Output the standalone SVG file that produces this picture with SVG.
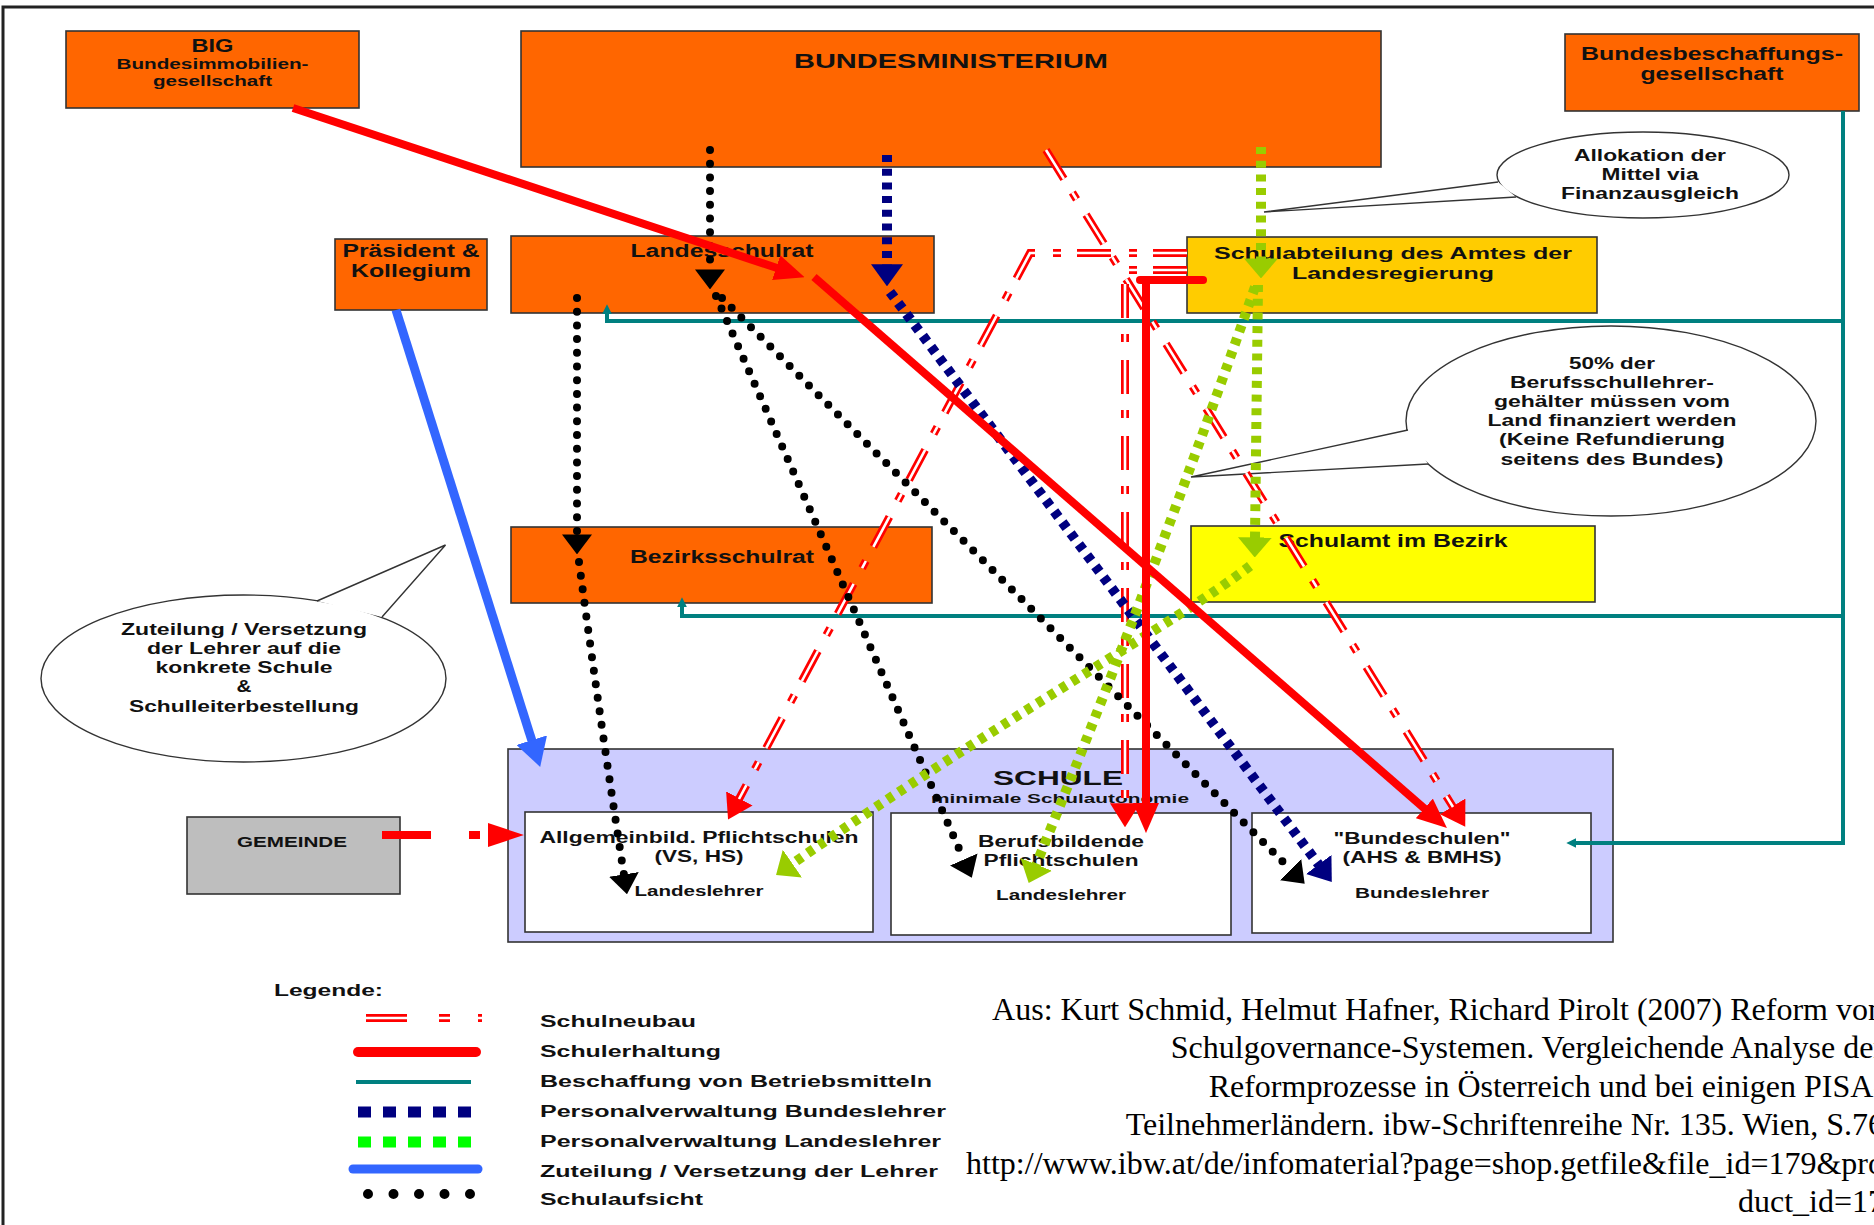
<svg xmlns="http://www.w3.org/2000/svg" width="1874" height="1225" viewBox="0 0 1874 1225">
<style>
.box{stroke:#333;stroke-width:1.6}
.or{fill:#FF6600}
.t{font-family:"Liberation Sans",Arial,Helvetica,sans-serif;font-weight:bold;fill:#111;text-anchor:middle}
.l{text-anchor:start}
.call{fill:#fff;stroke:#333;stroke-width:1.4}
.cite{font-family:"Liberation Serif","Times New Roman",serif;font-size:32px;fill:#000;text-anchor:end}
.red{fill:none;stroke:#FF0000;stroke-width:8}
.neu{fill:none;stroke:#FF0000;stroke-width:8;stroke-dasharray:34 16 8 18}
.neuw{fill:none;stroke:#fff;stroke-width:2.6;stroke-dasharray:34 16 8 18}
.dots{fill:none;stroke:#000;stroke-width:8;stroke-linecap:round;stroke-dasharray:0 13.7}
.navy{fill:none;stroke:#000080;stroke-width:10;stroke-dasharray:7 6.7}
.grn{fill:none;stroke:#99CC00;stroke-width:10;stroke-dasharray:7 6.7}
.teal{fill:none;stroke:#008080;stroke-width:4}
.blue{fill:none;stroke:#3366FF;stroke-width:9}
</style>
<defs>
<marker id="aRed" viewBox="0 0 10 10" refX="0.3" refY="5" markerWidth="30" markerHeight="26" markerUnits="userSpaceOnUse" orient="auto" preserveAspectRatio="none"><path d="M0,0L10,5L0,10z" fill="#FF0000"/></marker>
<marker id="aNeu" viewBox="0 0 10 10" refX="0.3" refY="5" markerWidth="24" markerHeight="30" markerUnits="userSpaceOnUse" orient="auto" preserveAspectRatio="none"><path d="M0,0L10,5L0,10z" fill="#FF0000"/></marker>
<marker id="aGem" viewBox="0 0 10 10" refX="0.3" refY="5" markerWidth="36" markerHeight="24" markerUnits="userSpaceOnUse" orient="auto" preserveAspectRatio="none"><path d="M0,0L10,5L0,10z" fill="#FF0000"/></marker>
<marker id="aBlk" viewBox="0 0 10 10" refX="0.3" refY="5" markerWidth="20" markerHeight="30" markerUnits="userSpaceOnUse" orient="auto" preserveAspectRatio="none"><path d="M0,0L10,5L0,10z" fill="#000"/></marker>
<marker id="aNavy" viewBox="0 0 10 10" refX="0.3" refY="5" markerWidth="22" markerHeight="32" markerUnits="userSpaceOnUse" orient="auto" preserveAspectRatio="none"><path d="M0,0L10,5L0,10z" fill="#000080"/></marker>
<marker id="aGrn" viewBox="0 0 10 10" refX="0.3" refY="5" markerWidth="20" markerHeight="34" markerUnits="userSpaceOnUse" orient="auto" preserveAspectRatio="none"><path d="M0,0L10,5L0,10z" fill="#99CC00"/></marker>
<marker id="aBlue" viewBox="0 0 10 10" refX="0.3" refY="5" markerWidth="28" markerHeight="32" markerUnits="userSpaceOnUse" orient="auto" preserveAspectRatio="none"><path d="M0,0L10,5L0,10z" fill="#3366FF"/></marker>
<marker id="aTeal" viewBox="0 0 10 10" refX="0.3" refY="5" markerWidth="10" markerHeight="10" markerUnits="userSpaceOnUse" orient="auto" preserveAspectRatio="none"><path d="M0,0L10,5L0,10z" fill="#008080"/></marker>
</defs>
<rect x="0" y="0" width="1874" height="1225" fill="#fff"/>
<rect x="3" y="7" width="1900" height="1300" fill="none" stroke="#222" stroke-width="3"/>

<g id="big">
<rect class="box or" x="66" y="31" width="293" height="77"/>
<text class="t" x="212.5" y="52" font-size="18" textLength="42" lengthAdjust="spacingAndGlyphs">BIG</text>
<text class="t" x="212.5" y="69" font-size="14" textLength="192" lengthAdjust="spacingAndGlyphs">Bundesimmobilien-</text>
<text class="t" x="212.5" y="86" font-size="14" textLength="119" lengthAdjust="spacingAndGlyphs">gesellschaft</text>
</g>
<g id="bundesministerium">
<rect class="box or" x="521" y="31" width="860" height="136"/>
<text class="t" x="951" y="68" font-size="21" textLength="314" lengthAdjust="spacingAndGlyphs">BUNDESMINISTERIUM</text>
</g>
<g id="bbg">
<rect class="box or" x="1565" y="34" width="294" height="77"/>
<text class="t" x="1712" y="60" font-size="18" textLength="262" lengthAdjust="spacingAndGlyphs">Bundesbeschaffungs-</text>
<text class="t" x="1712" y="80" font-size="18" textLength="143" lengthAdjust="spacingAndGlyphs">gesellschaft</text>
</g>
<g id="praesident">
<rect class="box or" x="335" y="239" width="152" height="71"/>
<text class="t" x="411" y="257" font-size="18" textLength="137" lengthAdjust="spacingAndGlyphs">Präsident &amp;</text>
<text class="t" x="411" y="277" font-size="18" textLength="120" lengthAdjust="spacingAndGlyphs">Kollegium</text>
</g>
<g id="landesschulrat">
<rect class="box or" x="511" y="236" width="423" height="77"/>
<text class="t" x="722" y="257" font-size="18" textLength="183" lengthAdjust="spacingAndGlyphs">Landesschulrat</text>
</g>
<g id="schulabteilung">
<rect class="box" x="1187" y="237" width="410" height="76" fill="#FFCC00"/>
<text class="t" x="1393" y="259" font-size="17" textLength="358" lengthAdjust="spacingAndGlyphs">Schulabteilung des Amtes der</text>
<text class="t" x="1393" y="279" font-size="17" textLength="202" lengthAdjust="spacingAndGlyphs">Landesregierung</text>
</g>
<g id="bezirksschulrat">
<rect class="box or" x="511" y="527" width="421" height="76"/>
<text class="t" x="722" y="563" font-size="18" textLength="184" lengthAdjust="spacingAndGlyphs">Bezirksschulrat</text>
</g>
<g id="schulamt">
<rect class="box" x="1191" y="526" width="404" height="76" fill="#FFFF00"/>
<text class="t" x="1393" y="547" font-size="18" textLength="229" lengthAdjust="spacingAndGlyphs">Schulamt im Bezirk</text>
</g>
<g id="schule">
<rect class="box" x="508" y="749" width="1105" height="193" fill="#CCCCFF"/>
<text class="t" x="1058" y="785" font-size="21" textLength="130" lengthAdjust="spacingAndGlyphs">SCHULE</text>
<text class="t" x="1060" y="803" font-size="13" textLength="258" lengthAdjust="spacingAndGlyphs">minimale Schulautonomie</text>
</g>
<g id="allgemeinbild">
<rect class="box" x="525" y="812" width="348" height="120" fill="#fff"/>
<text class="t" x="699" y="843" font-size="16" textLength="319" lengthAdjust="spacingAndGlyphs">Allgemeinbild. Pflichtschulen</text>
<text class="t" x="699" y="862" font-size="16" textLength="89" lengthAdjust="spacingAndGlyphs">(VS, HS)</text>
<text class="t" x="699" y="896" font-size="14" textLength="129" lengthAdjust="spacingAndGlyphs">Landeslehrer</text>
</g>
<g id="berufsbildende">
<rect class="box" x="891" y="813" width="340" height="122" fill="#fff"/>
<text class="t" x="1061" y="847" font-size="16" textLength="166" lengthAdjust="spacingAndGlyphs">Berufsbildende</text>
<text class="t" x="1061" y="866" font-size="16" textLength="155" lengthAdjust="spacingAndGlyphs">Pflichtschulen</text>
<text class="t" x="1061" y="900" font-size="14" textLength="130" lengthAdjust="spacingAndGlyphs">Landeslehrer</text>
</g>
<g id="bundesschulen">
<rect class="box" x="1252" y="813" width="339" height="120" fill="#fff"/>
<text class="t" x="1422" y="844" font-size="16" textLength="177" lengthAdjust="spacingAndGlyphs">"Bundeschulen"</text>
<text class="t" x="1422" y="863" font-size="16" textLength="159" lengthAdjust="spacingAndGlyphs">(AHS &amp; BMHS)</text>
<text class="t" x="1422" y="898" font-size="14" textLength="134" lengthAdjust="spacingAndGlyphs">Bundeslehrer</text>
</g>
<g id="gemeinde">
<rect class="box" x="187" y="817" width="213" height="77" fill="#BEBEBE"/>
<text class="t" x="292" y="847" font-size="15" textLength="110" lengthAdjust="spacingAndGlyphs">GEMEINDE</text>
</g>

<g id="callout-allokation">
<ellipse class="call" cx="1643" cy="175" rx="146" ry="43"/>
<path class="call" d="M1498,182 L1264,212 L1516,197"/>
<text class="t" x="1650" y="161" font-size="16" textLength="152" lengthAdjust="spacingAndGlyphs">Allokation der</text>
<text class="t" x="1650" y="180" font-size="16" textLength="97" lengthAdjust="spacingAndGlyphs">Mittel via</text>
<text class="t" x="1650" y="199" font-size="16" textLength="178" lengthAdjust="spacingAndGlyphs">Finanzausgleich</text>
</g>
<g id="callout-50">
<ellipse class="call" cx="1611" cy="421" rx="205" ry="95"/>
<path class="call" d="M1408,430 L1191,477 L1428,464"/>
<text class="t" x="1612" y="369" font-size="16" textLength="86" lengthAdjust="spacingAndGlyphs">50% der</text>
<text class="t" x="1612" y="388" font-size="16" textLength="204" lengthAdjust="spacingAndGlyphs">Berufsschullehrer-</text>
<text class="t" x="1612" y="407" font-size="16" textLength="236" lengthAdjust="spacingAndGlyphs">gehälter müssen vom</text>
<text class="t" x="1612" y="426" font-size="16" textLength="249" lengthAdjust="spacingAndGlyphs">Land finanziert werden</text>
<text class="t" x="1612" y="445" font-size="16" textLength="226" lengthAdjust="spacingAndGlyphs">(Keine Refundierung</text>
<text class="t" x="1612" y="465" font-size="16" textLength="223" lengthAdjust="spacingAndGlyphs">seitens des Bundes)</text>
</g>
<g id="callout-zuteilung">
<ellipse class="call" cx="243.5" cy="678.5" rx="202.5" ry="83.5"/>
<path class="call" d="M317,601 L445.5,545 L382,617"/>
<text class="t" x="244" y="635" font-size="16" textLength="246" lengthAdjust="spacingAndGlyphs">Zuteilung / Versetzung</text>
<text class="t" x="244" y="654" font-size="16" textLength="194" lengthAdjust="spacingAndGlyphs">der Lehrer auf die</text>
<text class="t" x="244" y="673" font-size="16" textLength="177" lengthAdjust="spacingAndGlyphs">konkrete Schule</text>
<text class="t" x="244" y="692" font-size="16" textLength="15" lengthAdjust="spacingAndGlyphs">&amp;</text>
<text class="t" x="244" y="712" font-size="16" textLength="230" lengthAdjust="spacingAndGlyphs">Schulleiterbestellung</text>
</g>

<g id="connectors">
<path class="teal" d="M1843,111 V843 H1576" marker-end="url(#aTeal)"/>
<path class="teal" d="M1843,321 H607 V314" marker-end="url(#aTeal)"/>
<path class="teal" d="M1843,616 H682 V607" marker-end="url(#aTeal)"/>

<path class="neu" d="M1046,150 L1453,807" marker-end="url(#aNeu)"/>
<path class="neuw" d="M1046,150 L1453,807"/>
<path class="neu" d="M1187,253 H1030 L739,799" marker-end="url(#aNeu)"/>
<path class="neuw" d="M1187,253 H1030 L739,799"/>
<path class="neu" d="M1187,270 H1125 V804" marker-end="url(#aNeu)"/>
<path class="neuw" d="M1187,270 H1125 V804"/>
<path d="M382,835 H489" fill="none" stroke="#FF0000" stroke-width="8" stroke-dasharray="49 38 11 30" marker-end="url(#aGem)"/>

<path class="dots" d="M710,150 V270" marker-end="url(#aBlk)"/>
<path class="dots" d="M577,298 V535" marker-end="url(#aBlk)"/>
<path class="dots" d="M579,562 Q600,720 624,875" marker-end="url(#aBlk)"/>
<path class="dots" d="M716,296 L964,860" marker-end="url(#aBlk)"/>
<path class="dots" d="M722,298 L1291,870" marker-end="url(#aBlk)"/>

<path class="navy" d="M887,155 V265" marker-end="url(#aNavy)"/>
<path class="navy" d="M890,292 L1319,865" marker-end="url(#aNavy)"/>

<path class="grn" d="M1261,147 V259" marker-end="url(#aGrn)"/>
<path class="grn" d="M1258,285 L1255,538" marker-end="url(#aGrn)"/>
<path class="grn" d="M1255,287 Q1160,560 1036,865" marker-end="url(#aGrn)"/>
<path class="grn" d="M1250,566 C1180,620 1000,720 792,864" marker-end="url(#aGrn)"/>

<path class="blue" d="M396,310 L532,741" marker-end="url(#aBlue)"/>

<path class="red" d="M293,108 L777,268" marker-end="url(#aRed)"/>
<path class="red" d="M814,277 L1425,809" marker-end="url(#aRed)"/>
<path class="red" d="M1203,280 H1140" stroke-linecap="round"/>
<path class="red" d="M1146,276 V804" marker-end="url(#aRed)"/>
</g>

<g id="legend">
<text class="t l" x="274" y="996" font-size="16" textLength="109" lengthAdjust="spacingAndGlyphs">Legende:</text>
<path d="M366,1018 H482" fill="none" stroke="#FF0000" stroke-width="8" stroke-dasharray="41 32 11 28 4 100"/>
<path d="M366,1018 H482" fill="none" stroke="#fff" stroke-width="2.5" stroke-dasharray="41 32 11 28 4 100"/>
<path d="M358,1052 H476" fill="none" stroke="#FF0000" stroke-width="10" stroke-linecap="round"/>
<path d="M356,1082 H471" fill="none" stroke="#008080" stroke-width="4"/>
<path d="M358,1112 H476" fill="none" stroke="#000080" stroke-width="11" stroke-dasharray="13 12"/>
<path d="M358,1142 H476" fill="none" stroke="#00FF00" stroke-width="11" stroke-dasharray="13 12"/>
<path d="M353,1169 H478" fill="none" stroke="#3366FF" stroke-width="9" stroke-linecap="round"/>
<path d="M368,1194 H471" fill="none" stroke="#000" stroke-width="10" stroke-linecap="round" stroke-dasharray="0 25.5"/>
<text class="t l" x="540" y="1027" font-size="16" textLength="156" lengthAdjust="spacingAndGlyphs">Schulneubau</text>
<text class="t l" x="540" y="1057" font-size="16" textLength="181" lengthAdjust="spacingAndGlyphs">Schulerhaltung</text>
<text class="t l" x="540" y="1087" font-size="16" textLength="392" lengthAdjust="spacingAndGlyphs">Beschaffung von Betriebsmitteln</text>
<text class="t l" x="540" y="1117" font-size="16" textLength="406" lengthAdjust="spacingAndGlyphs">Personalverwaltung Bundeslehrer</text>
<text class="t l" x="540" y="1147" font-size="16" textLength="401" lengthAdjust="spacingAndGlyphs">Personalverwaltung Landeslehrer</text>
<text class="t l" x="540" y="1177" font-size="16" textLength="398" lengthAdjust="spacingAndGlyphs">Zuteilung / Versetzung der Lehrer</text>
<text class="t l" x="540" y="1205" font-size="16" textLength="163" lengthAdjust="spacingAndGlyphs">Schulaufsicht</text>
</g>

<g id="citation">
<text class="cite" x="1884" y="1020">Aus: Kurt Schmid, Helmut Hafner, Richard Pirolt (2007) Reform von</text>
<text class="cite" x="1884" y="1058">Schulgovernance-Systemen. Vergleichende Analyse der</text>
<text class="cite" x="1884" y="1097">Reformprozesse in Österreich und bei einigen PISA-</text>
<text class="cite" x="1884" y="1135">Teilnehmerländern. ibw-Schriftenreihe Nr. 135. Wien, S.76</text>
<text class="cite" x="1884" y="1174">http://www.ibw.at/de/infomaterial?page=shop.getfile&amp;file_id=179&amp;pro</text>
<text class="cite" x="1884" y="1212">duct_id=17</text>
</g>
</svg>
